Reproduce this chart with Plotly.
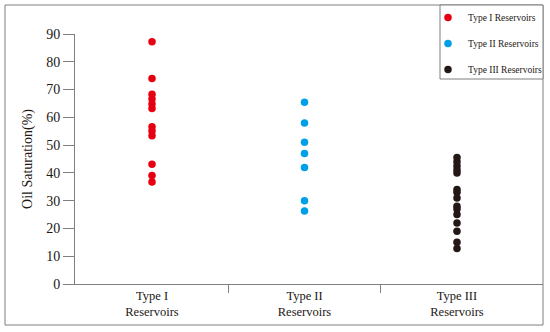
import plotly.graph_objects as go

categories = ["Type I<br>Reservoirs", "Type II<br>Reservoirs", "Type III<br>Reservoirs"]
series_names = ["Type I Reservoirs", "Type II Reservoirs", "Type III Reservoirs"]
type1_values = [87.2, 74.0, 68.3, 66.6, 64.8, 63.2, 56.6, 55.1, 53.4, 43.1, 39.1, 36.7]
type2_values = [65.4, 58.0, 51.0, 47.0, 41.9, 30.0, 26.3]
type3_values = [45.5, 44.0, 42.5, 41.0, 40.0, 34.0, 33.0, 31.0, 28.0, 27.0, 25.0, 22.0, 19.0, 15.0, 12.8]
y_ticks = [0, 10, 20, 30, 40, 50, 60, 70, 80, 90]
colors = ["#e60012", "#00a0e9", "#231815"]

W, H = 550, 332
L, R, T, B = 75, 7, 34, 48
pw, ph = W - L - R, H - T - B

cat_pos = list(range(len(categories)))
boundaries = [p + 0.5 for p in cat_pos[:-1]]

fig = go.Figure()
for i, (name, vals) in enumerate(zip(series_names, [type1_values, type2_values, type3_values])):
    fig.add_trace(go.Scatter(
        x=[cat_pos[i]] * len(vals), y=vals, mode="markers", name=name,
        legendgroup=name,
        marker=dict(color=colors[i], size=7.5, line=dict(width=0)),
    ))

font_family = "Liberation Serif"
fig.update_layout(
    width=W, height=H,
    margin=dict(l=L, r=R, t=T, b=B, pad=0, autoexpand=False),
    paper_bgcolor="white", plot_bgcolor="white",
    font=dict(family=font_family, color="#231815"),
    showlegend=True,
    legend=dict(
        xref="container", yref="container",
        x=428 / W, y=1 - 3 / H, xanchor="left", yanchor="top",
        bgcolor="rgba(0,0,0,0)", borderwidth=0,
        font=dict(family=font_family, size=9.5, color="#231815"),
        tracegroupgap=7, itemwidth=30,
    ),
    xaxis=dict(
        range=[-0.505, 2.564],
        tickmode="array", tickvals=cat_pos, ticktext=categories,
        ticks="", ticklen=0,
        minor=dict(tickmode="array", tickvals=boundaries, ticks="outside", ticklen=8,
                   tickcolor="#7f7f7f", showgrid=False),
        showline=True, linecolor="#7f7f7f", linewidth=1,
        showgrid=False, zeroline=False,
        tickfont=dict(family=font_family, size=12.5, color="#231815"),
    ),
    yaxis=dict(
        range=[0, 90], tickvals=y_ticks,
        showline=True, linecolor="#7f7f7f", linewidth=1,
        showgrid=False, zeroline=False,
        ticks="outside", ticklen=11, tickcolor="#7f7f7f",
        tickfont=dict(family=font_family, size=14, color="#231815"),
        title=dict(text="Oil Saturation(%)", font=dict(family=font_family, size=14, color="#231815"), standoff=10),
    ),
    shapes=[
        dict(
            type="rect", xref="paper", yref="paper",
            x0=(5 - L) / pw, x1=1.0, y0=(H - B - 325) / ph, y1=(H - B - 5) / ph,
            line=dict(color="#7f7f7f", width=1), fillcolor="rgba(0,0,0,0)", layer="below",
        ),
        dict(
            type="rect", xref="paper", yref="paper",
            x0=(440 - L) / pw, x1=1.0, y0=(H - B - 79) / ph, y1=(H - B - 5) / ph,
            line=dict(color="#7f7f7f", width=1), fillcolor="white", layer="below",
        ),
    ],
)

fig.write_html(
    "out.html",
    config={"displayModeBar": False},
    post_script="document.body.style.margin='0';document.body.style.overflow='hidden';",
)
